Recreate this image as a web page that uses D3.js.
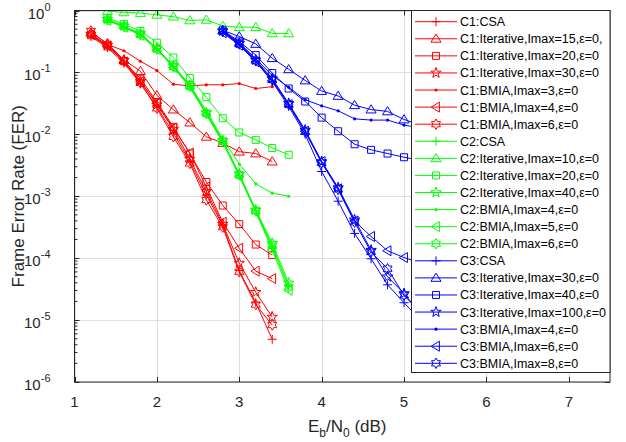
<!DOCTYPE html>
<html lang="en">
<head>
<meta charset="UTF-8">
<title>FER vs Eb/N0</title>
<script src="https://cdnjs.cloudflare.com/ajax/libs/d3/7.8.5/d3.min.js"></script>
<style>
  body { margin: 0; background: #fff; }
  svg { display: block; font-family: "Liberation Sans", Arial, Helvetica, sans-serif; }
</style>
</head>
<body>
<div id="chart"></div>
<script>
// Eb/N0 points (dB) of each code
const snrC1 = [1.2, 1.4, 1.6, 1.8, 2.0, 2.2, 2.4, 2.6, 2.8, 3.0, 3.2, 3.4];
const snrC2 = [1.4, 1.6, 1.8, 2.0, 2.2, 2.4, 2.6, 2.8, 3.0, 3.2, 3.4, 3.6];
const snrC3 = [2.8, 3.0, 3.2, 3.4, 3.6, 3.8, 4.0, 4.2, 4.4, 4.6, 4.8, 5.0, 5.2];

// log10(FER)
const c1Csa    = [-0.42, -0.60, -0.85, -1.18, -1.56, -1.98, -2.44, -2.98, -3.47, -4.20, -4.72, -5.31];
const c1It15   = [-0.36, -0.53, -0.80, -0.98, -1.37, -1.60, -1.81, -2.04, -2.14, -2.28, -2.31, -2.44];
const c1It20   = [-0.40, -0.58, -0.82, -1.10, -1.48, -1.88, -2.31, -2.77, -3.15, -3.45, -3.78, -3.95];
const c1It30   = [-0.38, -0.56, -0.80, -1.14, -1.52, -1.92, -2.40, -2.92, -3.45, -4.08, -4.55, -4.95];
const c1Bmia3  = [-0.42, -0.55, -0.65, -0.82, -0.97, -1.19, -1.22, -1.20, -1.20, -1.18, -1.26, -1.23];
const c1Bmia4  = [-0.39, -0.57, -0.83, -1.15, -1.50, -1.90, -2.30, -2.85, -3.42, -3.84, -4.21, -4.33];
const c1Bmia6  = [-0.33, -0.55, -0.82, -1.17, -1.58, -2.04, -2.47, -3.06, -3.50, -4.22, -4.75, -5.08];

const c2Csa    = [-0.15, -0.26, -0.38, -0.62, -0.91, -1.23, -1.67, -2.12, -2.66, -3.23, -3.82, -4.45];
const c2It10   = [-0.01, -0.03, -0.04, -0.07, -0.10, -0.16, -0.15, -0.25, -0.27, -0.27, -0.37, -0.37];
const c2It20   = [-0.12, -0.22, -0.33, -0.52, -0.76, -1.09, -1.40, -1.74, -1.97, -2.09, -2.22, -2.33];
const c2It40   = [-0.14, -0.25, -0.37, -0.61, -0.89, -1.21, -1.65, -2.10, -2.64, -3.22, -3.76, -4.40];
const c2Bmia4  = [-0.15, -0.27, -0.39, -0.62, -0.90, -1.20, -1.62, -2.07, -2.48, -2.80, -2.95, -3.00];
const c2Bmia5  = [-0.16, -0.27, -0.40, -0.63, -0.92, -1.24, -1.68, -2.13, -2.68, -3.25, -3.87, -4.52];
const c2Bmia6  = [-0.15, -0.26, -0.39, -0.62, -0.91, -1.22, -1.66, -2.11, -2.65, -3.24, -3.80, -4.47];

const c3Csa    = [-0.35, -0.55, -0.82, -1.15, -1.55, -2.00, -2.60, -3.08, -3.60, -4.01, -4.43, -4.72, -5.00];
const c3It30   = [-0.32, -0.42, -0.54, -0.77, -0.95, -1.13, -1.30, -1.38, -1.53, -1.60, -1.63, -1.76, -1.85];
const c3It40   = [-0.32, -0.50, -0.72, -1.01, -1.26, -1.47, -1.73, -1.95, -2.16, -2.25, -2.31, -2.37, -2.42];
const c3It100  = [-0.33, -0.53, -0.80, -1.10, -1.50, -1.93, -2.44, -2.86, -3.38, -3.87, -4.30, -4.57, -4.90];
const c3Bmia4  = [-0.33, -0.52, -0.78, -1.05, -1.24, -1.44, -1.54, -1.62, -1.75, -1.77, -1.77, -1.85, -1.90];
const c3Bmia6  = [-0.36, -0.56, -0.83, -1.13, -1.52, -1.95, -2.44, -2.88, -3.40, -3.65, -3.88, -3.99, -4.08];
const c3Bmia8  = [-0.34, -0.54, -0.81, -1.12, -1.52, -1.96, -2.46, -2.89, -3.42, -3.90, -4.17, -4.60, -4.88];

const seriesNames = [
  "C1:CSA", "C1:Iterative,Imax=15,ε=0,", "C1:Iterative,Imax=20,ε=0", "C1:Iterative,Imax=30,ε=0",
  "C1:BMIA,Imax=3,ε=0", "C1:BMIA,Imax=4,ε=0", "C1:BMIA,Imax=6,ε=0",
  "C2:CSA", "C2:Iterative,Imax=10,ε=0", "C2:Iterative,Imax=20,ε=0", "C2:Iterative,Imax=40,ε=0",
  "C2:BMIA,Imax=4,ε=0", "C2:BMIA,Imax=5,ε=0", "C2:BMIA,Imax=6,ε=0",
  "C3:CSA", "C3:Iterative,Imax=30,ε=0", "C3:Iterative,Imax=40,ε=0", "C3:Iterative,Imax=100,ε=0",
  "C3:BMIA,Imax=4,ε=0", "C3:BMIA,Imax=6,ε=0", "C3:BMIA,Imax=8,ε=0"
];
const seriesX = [snrC1, snrC1, snrC1, snrC1, snrC1, snrC1, snrC1,
                 snrC2, snrC2, snrC2, snrC2, snrC2, snrC2, snrC2,
                 snrC3, snrC3, snrC3, snrC3, snrC3, snrC3, snrC3];
const seriesY = [c1Csa, c1It15, c1It20, c1It30, c1Bmia3, c1Bmia4, c1Bmia6,
                 c2Csa, c2It10, c2It20, c2It40, c2Bmia4, c2Bmia5, c2Bmia6,
                 c3Csa, c3It30, c3It40, c3It100, c3Bmia4, c3Bmia6, c3Bmia8];
const seriesColors = ["#ff0000", "#00ff00", "#0000ff"];
const seriesMarkers = ["+", "^", "s", "p", ".", "<", "h"];

const xTicks = [1, 2, 3, 4, 5, 6, 7];
const yTickExps = [0, -1, -2, -3, -4, -5, -6];

// Layout
const width = 626, height = 442;
const plotL = 74.5, plotR = 610, plotT = 10.5, plotB = 382;
const axisColor = "#262626";

const svg = d3.select("#chart").append("svg")
  .attr("width", width)
  .attr("height", height);

const x = d3.scaleLinear().domain([1, 7.5]).range([plotL, plotR]);
const y = d3.scaleLog().domain([1e-6, 1]).range([plotB, plotT]);

// Grid
const grid = svg.append("g").attr("stroke", "#dfdfdf").attr("stroke-width", 1);
grid.selectAll(".gx").data(xTicks).join("line")
  .attr("x1", d => Math.round(x(d)) + 0.5).attr("x2", d => Math.round(x(d)) + 0.5)
  .attr("y1", plotT).attr("y2", plotB);
grid.selectAll(".gy").data(yTickExps).join("line")
  .attr("x1", plotL).attr("x2", plotR)
  .attr("y1", d => Math.round(y(Math.pow(10, d))) + 0.5)
  .attr("y2", d => Math.round(y(Math.pow(10, d))) + 0.5);

// Marker shapes
function starPath(n, rOut, rIn) {
  const pts = d3.range(n * 2).map(i => {
    const a = -Math.PI / 2 + i * Math.PI / n;
    const r = i % 2 === 0 ? rOut : rIn;
    return [r * Math.cos(a), r * Math.sin(a)];
  });
  return "M" + pts.map(p => p[0].toFixed(2) + "," + p[1].toFixed(2)).join("L") + "Z";
}
function markerPath(type) {
  switch (type) {
    case "+": return "M-4.5,0H4.5M0,-4.5V4.5";
    case "^": return "M0,-4.8L5,3.4L-5,3.4Z";
    case "<": return "M-4.8,0L3.4,-5L3.4,5Z";
    case "s": return "M-3.5,-3.5H3.5V3.5H-3.5Z";
    case "p": return starPath(5, 5.5, 2.2);
    case "h": return starPath(6, 5.2, 3.0);
  }
  return null;
}
function drawMarker(g, type, cx, cy, color) {
  if (type === ".") {
    g.append("circle").attr("cx", cx).attr("cy", cy).attr("r", 1.6).attr("fill", color);
  } else {
    g.append("path").attr("d", markerPath(type))
      .attr("transform", `translate(${cx},${cy})`)
      .attr("fill", "none").attr("stroke", color).attr("stroke-width", 1);
  }
}

// Curves
svg.append("clipPath").attr("id", "plot-clip").append("rect")
  .attr("x", plotL).attr("y", plotT).attr("width", plotR - plotL).attr("height", plotB - plotT);
const plot = svg.append("g").attr("clip-path", "url(#plot-clip)");
const line = d3.line().x(d => x(d[0])).y(d => y(d[1]));

seriesNames.forEach((name, i) => {
  const color = seriesColors[Math.floor(i / 7)];
  const marker = seriesMarkers[i % 7];
  const pts = seriesX[i].map((v, j) => [v, Math.pow(10, seriesY[i][j])]);
  const g = plot.append("g");
  g.append("path").attr("d", line(pts))
    .attr("fill", "none").attr("stroke", color).attr("stroke-width", 1);
  pts.forEach(p => drawMarker(g, marker, x(p[0]), y(p[1]), color));
});

// Axes box and ticks
const axes = svg.append("g").attr("stroke", axisColor).attr("stroke-width", 1).attr("fill", "none");
axes.append("rect").attr("x", plotL).attr("y", plotT)
  .attr("width", plotR - plotL).attr("height", plotB - plotT);
xTicks.forEach(t => {
  const px = Math.round(x(t)) + 0.5;
  axes.append("line").attr("x1", px).attr("x2", px).attr("y1", plotB).attr("y2", plotB - 5);
  axes.append("line").attr("x1", px).attr("x2", px).attr("y1", plotT).attr("y2", plotT + 5);
});
yTickExps.forEach(e => {
  const py = Math.round(y(Math.pow(10, e))) + 0.5;
  axes.append("line").attr("x1", plotL).attr("x2", plotL + 5).attr("y1", py).attr("y2", py);
  axes.append("line").attr("x1", plotR).attr("x2", plotR - 5).attr("y1", py).attr("y2", py);
  if (e > -6) {
    d3.range(2, 10).forEach(m => {
      const my = y(m * Math.pow(10, e - 1));
      axes.append("line").attr("x1", plotL).attr("x2", plotL + 3).attr("y1", my).attr("y2", my);
      axes.append("line").attr("x1", plotR).attr("x2", plotR - 3).attr("y1", my).attr("y2", my);
    });
  }
});

// Tick labels
svg.append("g").selectAll("text").data(xTicks).join("text")
  .attr("x", d => x(d)).attr("y", plotB + 25)
  .attr("text-anchor", "middle").attr("font-size", 15).attr("fill", axisColor)
  .text(d => d);

const yLab = svg.append("g").selectAll("text").data(yTickExps).join("text")
  .attr("x", plotL - 24).attr("y", d => y(Math.pow(10, d)) + 8)
  .attr("text-anchor", "end").attr("font-size", 15).attr("fill", axisColor);
yLab.append("tspan").text("10");
yLab.append("tspan").attr("dy", -8).attr("font-size", 11).text(d => d === 0 ? "0" : "-" + (-d));

// Axis titles
const xTitle = svg.append("text")
  .attr("x", (plotL + plotR) / 2 + 5).attr("y", 432)
  .attr("text-anchor", "middle").attr("font-size", 17).attr("fill", axisColor);
xTitle.append("tspan").text("E");
xTitle.append("tspan").attr("dy", 5).attr("font-size", 12).text("b");
xTitle.append("tspan").attr("dy", -5).text("/N");
xTitle.append("tspan").attr("dy", 5).attr("font-size", 12).text("0");
xTitle.append("tspan").attr("dy", -5).text(" (dB)");

svg.append("text")
  .attr("transform", `translate(24,${(plotT + plotB) / 2}) rotate(-90)`)
  .attr("text-anchor", "middle").attr("font-size", 17).attr("fill", axisColor)
  .text("Frame Error Rate (FER)");

// Legend
const legL = 411.5, legT = 10.5, legR = 610, legB = 372.5;
const legend = svg.append("g");
legend.append("rect").attr("x", legL).attr("y", legT)
  .attr("width", legR - legL).attr("height", legB - legT)
  .attr("fill", "#fff").attr("stroke", axisColor).attr("stroke-width", 1);
seriesNames.forEach((name, i) => {
  const color = seriesColors[Math.floor(i / 7)];
  const ry = 21.7 + i * 17.08;
  const g = legend.append("g");
  g.append("line").attr("x1", 415).attr("x2", 457).attr("y1", ry).attr("y2", ry)
    .attr("stroke", color).attr("stroke-width", 1);
  drawMarker(g, seriesMarkers[i % 7], 436, ry, color);
  g.append("text").attr("x", 460).attr("y", ry + 4.5)
    .attr("font-size", 12.5).attr("fill", "#000").text(name);
});
</script>
</body>
</html>
